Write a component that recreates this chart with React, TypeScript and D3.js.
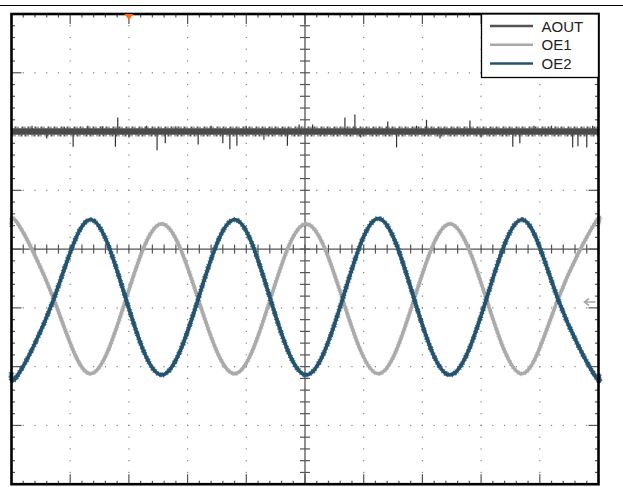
import React from "react";
import * as d3 from "d3";

// Scope screen: 10 horizontal divisions x 8 vertical divisions
const X_DIVS = 10;
const Y_DIVS = 8;

// Legend entries
const seriesNames = ["AOUT", "OE1", "OE2"];
const seriesColors = ["#555555", "#a9a9a9", "#23536f"];

// AOUT level (divisions) and its glitch spikes [time div, offset div]
const aoutLevel = 2.0;
const aoutSpikes: [number, number][] = [
  [0.35, 0.1], [0.6, -0.12], [0.9, 0.08], [1.05, -0.26], [1.3, 0.1], [1.55, 0.09],
  [1.77, -0.26], [1.81, 0.24], [2.0, -0.1], [2.3, 0.1], [2.48, -0.32], [2.62, -0.2],
  [2.8, 0.09], [3.18, -0.22], [3.4, 0.1], [3.6, -0.2], [3.72, -0.3], [3.84, -0.24],
  [4.0, 0.1], [4.3, -0.14], [4.7, -0.24], [4.9, 0.12], [5.13, 0.12], [5.68, 0.24],
  [5.85, 0.29], [5.95, -0.1], [6.41, 0.17], [6.56, -0.27], [6.9, 0.1], [7.07, 0.2],
  [7.3, -0.12], [7.81, 0.19], [8.0, -0.1], [8.54, -0.26], [8.66, -0.2], [8.9, 0.1],
  [9.2, 0.1], [9.56, -0.27], [9.65, -0.25], [9.8, -0.27], [9.9, 0.1]
];

const oe1Points: [number, number][] = [
  [0.0, 0.38], [0.11, 0.43], [0.72, -0.85], [1.34, -2.12], [1.95, -0.85],
  [2.56, 0.43], [3.18, -0.85], [3.8, -2.12], [4.41, -0.85], [5.02, 0.43],
  [5.64, -0.85], [6.25, -2.12], [6.86, -0.85], [7.47, 0.43], [8.09, -0.85],
  [8.7, -2.12], [9.31, -0.85], [9.93, 0.43], [10.0, 0.42]
];
const oe2Points: [number, number][] = [
  [0.0, -2.1], [0.11, -2.14], [0.72, -0.85], [1.34, 0.5], [1.95, -0.85],
  [2.56, -2.14], [3.18, -0.85], [3.8, 0.5], [4.41, -0.85], [5.02, -2.14],
  [5.64, -0.85], [6.25, 0.52], [6.86, -0.85], [7.47, -2.14], [8.09, -0.85],
  [8.7, 0.5], [9.31, -0.85], [9.93, -2.14], [10.0, -2.12]
];

// markers
const triggerTime = 2.0;
const groundLevel = -0.9;

const W = 623;
const H = 487;

export default function App() {
  const xs = d3.scaleLinear().domain([0, X_DIVS]).range([11.5, 598.5]);
  const ys = d3.scaleLinear().domain([-Y_DIVS / 2, Y_DIVS / 2]).range([484.2, 14]);
  const x0 = xs(0), x1 = xs(X_DIVS), y0 = ys(Y_DIVS / 2), y1 = ys(-Y_DIVS / 2);

  const line = d3
    .line<[number, number]>()
    .x((d) => xs(d[0]))
    .y((d) => ys(d[1]))
    .curve(d3.curveNatural);

  const minorX = d3.range(0, X_DIVS * 5 + 1).map((i) => i / 5);
  const minorY = d3.range(0, Y_DIVS * 5 + 1).map((i) => -Y_DIVS / 2 + i / 5);

  const ticks: JSX.Element[] = [];
  minorX.forEach((t, i) => {
    const L = i % 5 === 0 ? 10 : 3.5;
    ticks.push(<line key={"tb" + i} x1={xs(t)} x2={xs(t)} y1={y1} y2={y1 - L} />);
    ticks.push(<line key={"tt" + i} x1={xs(t)} x2={xs(t)} y1={y0} y2={y0 + L} />);
    ticks.push(<line key={"tc" + i} x1={xs(t)} x2={xs(t)} y1={ys(0) - 4.5} y2={ys(0) + 4.5} />);
  });
  minorY.forEach((v, i) => {
    const L = i % 5 === 0 ? 10 : 3.5;
    ticks.push(<line key={"tl" + i} x1={x0} x2={x0 + L} y1={ys(v)} y2={ys(v)} />);
    ticks.push(<line key={"tr" + i} x1={x1} x2={x1 - L} y1={ys(v)} y2={ys(v)} />);
    ticks.push(<line key={"tm" + i} x1={xs(5) - 5} x2={xs(5) + 5} y1={ys(v)} y2={ys(v)} />);
  });

  const dots: JSX.Element[] = [];
  d3.range(1, X_DIVS).forEach((k) => {
    if (k === X_DIVS / 2) return;
    minorY.forEach((v, j) => {
      if (j === 0 || j === minorY.length - 1) return;
      dots.push(<rect key={`dv${k}-${j}`} x={xs(k) - 0.6} y={ys(v) - 0.6} width={1.2} height={1.2} />);
    });
  });
  d3.range(1, Y_DIVS).forEach((k) => {
    const v = -Y_DIVS / 2 + k;
    if (v === 0) return;
    minorX.forEach((t, j) => {
      if (j === 0 || j === minorX.length - 1) return;
      dots.push(<rect key={`dh${k}-${j}`} x={xs(t) - 0.6} y={ys(v) - 0.6} width={1.2} height={1.2} />);
    });
  });

  const ay = ys(aoutLevel);
  const tx = xs(triggerTime);
  const gy = ys(groundLevel);
  const font = "'Liberation Sans', Arial, sans-serif";

  return (
    <svg width={W} height={H} style={{ position: "fixed", left: 0, top: 0, background: "#fff" }}>
      <line x1={0} x2={W} y1={5.5} y2={5.5} stroke="#000" strokeWidth={1} />
      <g fill="#808080">{dots}</g>
      <line x1={xs(5)} x2={xs(5)} y1={y0} y2={y1} stroke="#555" strokeWidth={1.3} />
      <line x1={x0} x2={x1} y1={ys(0)} y2={ys(0)} stroke="#555" strokeWidth={1.3} />
      <g stroke="#555" strokeWidth={1.2}>{ticks}</g>

      {/* AOUT */}
      <g>
        {aoutSpikes.map(([t, dv], i) => (
          <line key={"sp" + i} x1={xs(t)} x2={xs(t)} y1={ay} y2={ys(aoutLevel + dv)} strokeWidth={1.2} stroke="#333" />
        ))}
        <line x1={x0} x2={x1} y1={ay} y2={ay} strokeWidth={6.5} stroke="#4a4a4a" />
        <line x1={x0} x2={x1} y1={ay - 4} y2={ay - 4} strokeWidth={2} stroke="#555" strokeDasharray="1 2 2 1 1 3 2 1" />
        <line x1={x0} x2={x1} y1={ay + 4} y2={ay + 4} strokeWidth={2} stroke="#555" strokeDasharray="2 1 1 3 1 1 2 2" />
      </g>

      {/* OE1 */}
      <path d={line(oe1Points) || ""} fill="none" stroke={seriesColors[1]} strokeWidth={3.6} />
      <path d={line(oe1Points) || ""} fill="none" stroke="#b0b0b0" strokeWidth={5} strokeDasharray="1 2 1 3" opacity={0.7} />
      {/* OE2 */}
      <path d={line(oe2Points) || ""} fill="none" stroke="#2a5a76" strokeWidth={5.4} strokeDasharray="1 2 2 1 1 3" opacity={0.8} />
      <path d={line(oe2Points) || ""} fill="none" stroke={seriesColors[2]} strokeWidth={3.8} />

      {/* frame */}
      <rect x={x0} y={y0} width={x1 - x0} height={y1 - y0} fill="none" stroke="#000" strokeWidth={2.6} />

      {/* trigger marker */}
      <path d={`M${tx - 4.5},${y0} L${tx + 4.5},${y0} L${tx},${y0 + 6} Z`} fill="#ff6a13" />
      {/* ground marker */}
      <path d={`M${x1 - 3},${gy} L${x1 - 14},${gy} M${x1 - 9.5},${gy - 3.5} L${x1 - 14},${gy} L${x1 - 9.5},${gy + 3.5}`} fill="none" stroke="#a8a8a8" strokeWidth={1.6} />

      {/* legend */}
      <rect x={481.5} y={y0} width={x1 - 481.5} height={63.5} fill="#fff" stroke="#000" strokeWidth={1.3} />
      {seriesNames.map((n, i) => (
        <g key={n}>
          <line x1={490} x2={533} y1={26 + i * 18.7} y2={26 + i * 18.7} stroke={seriesColors[i]} strokeWidth={2.5} />
          <text x={541.5} y={31.5 + i * 18.9} fontFamily={font} fontSize={15} fill="#222">
            {n}
          </text>
        </g>
      ))}
    </svg>
  );
}
